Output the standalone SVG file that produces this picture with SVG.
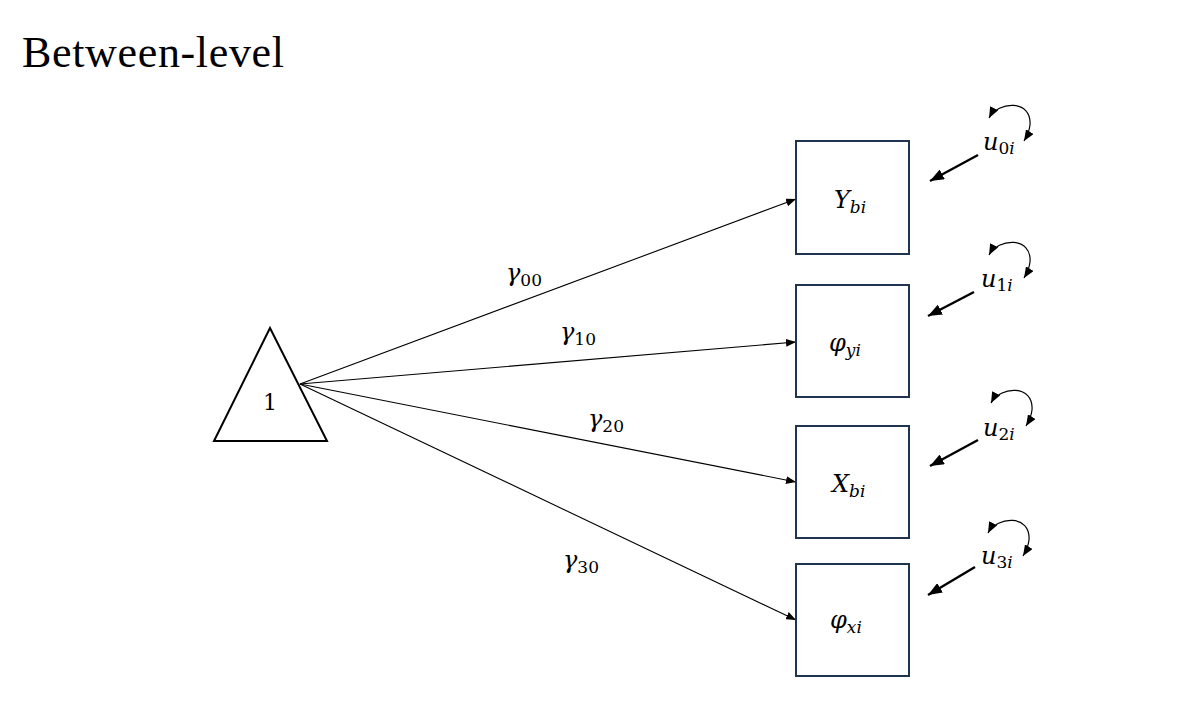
<svg xmlns="http://www.w3.org/2000/svg" width="1185" height="712" viewBox="0 0 1185 712">
<defs>
<style>
.title{font-family:"Liberation Serif","DejaVu Serif",serif;font-size:44px;fill:#000}
.v{font-family:"DejaVu Serif","Liberation Serif",serif;font-style:italic;font-size:24px;fill:#000}
.s{font-size:17px}
.n{font-style:normal}
.box{fill:#fff;stroke:#1e3450;stroke-width:2}
.tri{fill:#fff;stroke:#000;stroke-width:2}
.g{stroke:#000;stroke-width:1.1;fill:none;marker-end:url(#ah)}
.r{stroke:#000;stroke-width:2.4;fill:none;marker-end:url(#ahr)}
.l{stroke:#000;stroke-width:1.2;fill:none;marker-start:url(#ahl);marker-end:url(#ahl)}
</style>
<marker id="ah" markerUnits="userSpaceOnUse" markerWidth="10" markerHeight="8" viewBox="0 0 10 8" refX="10" refY="4" orient="auto"><path d="M0,0 L10,4 L0,8 z" fill="#000"/></marker>
<marker id="ahr" markerUnits="userSpaceOnUse" markerWidth="14" markerHeight="11" viewBox="0 0 14 11" refX="14" refY="5.5" orient="auto"><path d="M0,0 L14,5.5 L0,11 z" fill="#000"/></marker>
<marker id="ahl" markerUnits="userSpaceOnUse" markerWidth="11" markerHeight="9" viewBox="0 0 11 9" refX="11" refY="4.5" orient="auto-start-reverse"><path d="M0,0 L11,4.5 L0,9 z" fill="#000"/></marker>
</defs>
<rect width="1185" height="712" fill="#fff"/>
<text class="title" x="22" y="67" textLength="262" lengthAdjust="spacing">Between-level</text>

<g id="connectors">
<line class="g" x1="300" y1="384" x2="796" y2="199"/>
<line class="g" x1="300" y1="384" x2="796" y2="342"/>
<line class="g" x1="300" y1="384" x2="796" y2="482"/>
<line class="g" x1="300" y1="384" x2="796" y2="620"/>
<line class="r" x1="978" y1="155" x2="930" y2="181"/>
<line class="r" x1="974" y1="292" x2="928" y2="316"/>
<line class="r" x1="978" y1="440" x2="930" y2="466"/>
<line class="r" x1="975" y1="567" x2="928" y2="595"/>
<path class="l" d="M989,118 C998,101 1032,99 1030,125 Q1029,133 1024,141"/>
<path class="l" d="M989,255 C998,238 1032,236 1030,262 Q1029,270 1024,278"/>
<path class="l" d="M991,403 C1000,386 1034,384 1032,410 Q1031,418 1026,426"/>
<path class="l" d="M988,533 C997,516 1031,514 1029,540 Q1028,548 1023,556"/>
</g>

<g id="labels">
<text class="v" x="506" y="281">γ<tspan class="s n" dy="5">00</tspan></text>
<text class="v" x="560" y="340">γ<tspan class="s n" dy="5">10</tspan></text>
<text class="v" x="588" y="427">γ<tspan class="s n" dy="5">20</tspan></text>
<text class="v" x="563" y="568">γ<tspan class="s n" dy="5">30</tspan></text>
</g>

<g id="one">
<polygon class="tri" points="270,328 214,441 327,441"/>
<text class="v n" x="270" y="410" text-anchor="middle" style="font-size:22px">1</text>
</g>

<g id="Ybi">
<rect class="box" x="796" y="141" width="113" height="113"/>
<text class="v" x="834" y="208">Y<tspan class="s" dy="5">bi</tspan></text>
</g>
<g id="phiyi">
<rect class="box" x="796" y="285" width="113" height="112"/>
<text class="v" x="829" y="351">φ<tspan class="s" dy="5">yi</tspan></text>
</g>
<g id="Xbi">
<rect class="box" x="796" y="426" width="113" height="112"/>
<text class="v" x="832" y="492">X<tspan class="s" dy="5">bi</tspan></text>
</g>
<g id="phixi">
<rect class="box" x="796" y="564" width="113" height="112"/>
<text class="v" x="830" y="628">φ<tspan class="s" dy="5">xi</tspan></text>
</g>

<g id="u0i"><text class="v" x="983" y="150">u<tspan class="s n" dy="4">0</tspan><tspan class="s">i</tspan></text></g>
<g id="u1i"><text class="v" x="981" y="287">u<tspan class="s n" dy="4">1</tspan><tspan class="s">i</tspan></text></g>
<g id="u2i"><text class="v" x="983" y="436">u<tspan class="s n" dy="4">2</tspan><tspan class="s">i</tspan></text></g>
<g id="u3i"><text class="v" x="981" y="564">u<tspan class="s n" dy="4">3</tspan><tspan class="s">i</tspan></text></g>
</svg>
